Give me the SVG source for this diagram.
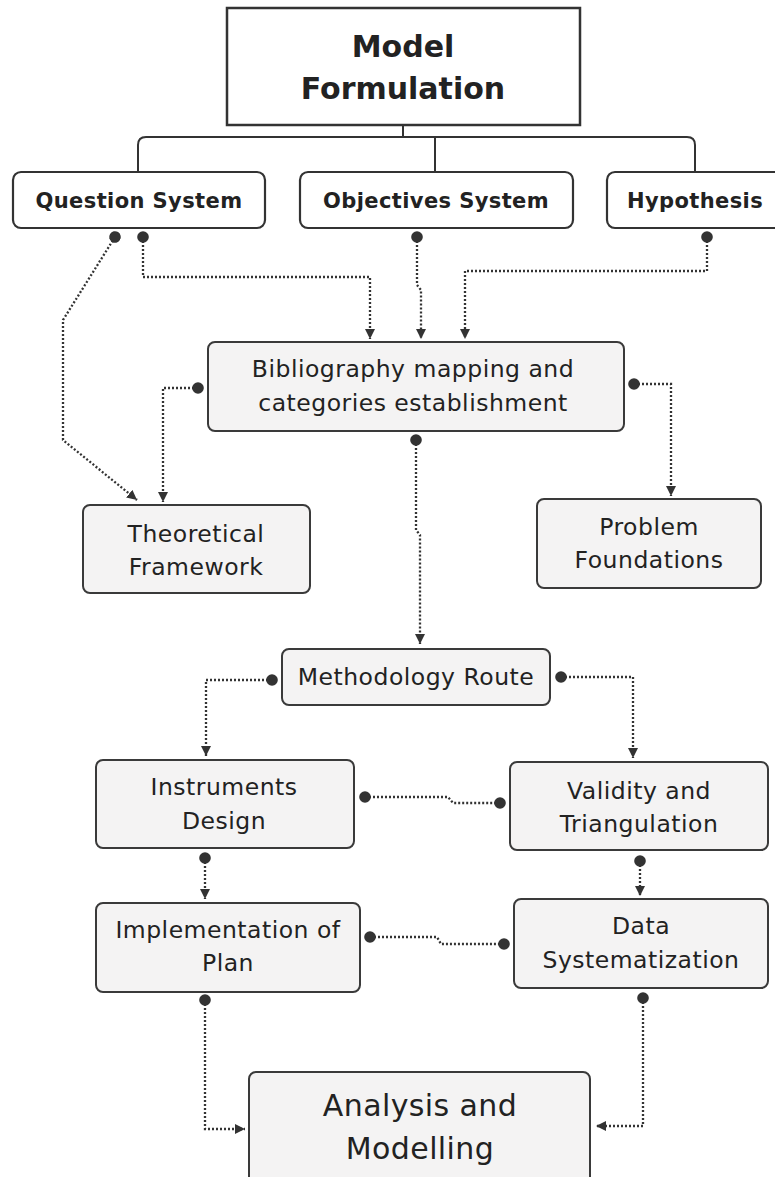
<svg xmlns="http://www.w3.org/2000/svg" width="775" height="1177" viewBox="0 0 775 1177">
<style>
.box{fill:#f4f3f3;stroke:#3a3a3a;stroke-width:2}
.wbox{fill:#ffffff;stroke:#333;stroke-width:2.2}
.t{font-family:"DejaVu Sans","Open Sans",sans-serif;font-size:23.5px;letter-spacing:0.5px;fill:#222;text-anchor:middle}
.hb{font-family:"DejaVu Sans","Open Sans",sans-serif;font-size:21px;font-weight:700;letter-spacing:0.4px;fill:#222;text-anchor:middle}
.title{font-family:"DejaVu Sans","Open Sans",sans-serif;font-size:30px;font-weight:700;fill:#222;text-anchor:middle}
.big{font-family:"DejaVu Sans","Open Sans",sans-serif;font-size:30px;letter-spacing:0.4px;fill:#222;text-anchor:middle}
.dl{fill:none;stroke:#333;stroke-width:2.3;stroke-dasharray:2 2}
.sl{fill:none;stroke:#333;stroke-width:2}
</style>
<defs>
<marker id="dot" viewBox="0 0 12 12" refX="6" refY="6" markerWidth="12" markerHeight="12" markerUnits="userSpaceOnUse" orient="auto">
<circle cx="6" cy="6" r="5.8" fill="#333"/>
</marker>
<marker id="arr" viewBox="0 0 10 10" refX="10" refY="5" markerWidth="10" markerHeight="10" markerUnits="userSpaceOnUse" orient="auto">
<path d="M0,0 L10,5 L0,10 z" fill="#333"/>
</marker>
</defs>
<rect width="775" height="1177" fill="#ffffff"/>
<g id="connectors">
<path class="sl" d="M403,125 V137 M138,172 V145 Q138,137 146,137 H687 Q695,137 695,145 V172 M435,137 V172"/>
<path class="dl" marker-start="url(#dot)" marker-end="url(#arr)" d="M115,237 L63,320 L63,440 L137,500"/>
<path class="dl" marker-start="url(#dot)" marker-end="url(#arr)" d="M143,237 V277 H370 V339"/>
<path class="dl" marker-start="url(#dot)" marker-end="url(#arr)" d="M417,237 V285 L421,290 V339"/>
<path class="dl" marker-start="url(#dot)" marker-end="url(#arr)" d="M707,237 V271 H465 V339"/>
<path class="dl" marker-start="url(#dot)" marker-end="url(#arr)" d="M198,388 H163 V502"/>
<path class="dl" marker-start="url(#dot)" marker-end="url(#arr)" d="M634,384 H671 V496"/>
<path class="dl" marker-start="url(#dot)" marker-end="url(#arr)" d="M416,440 V530 L420,535 V644"/>
<path class="dl" marker-start="url(#dot)" marker-end="url(#arr)" d="M272,680 H206 V756"/>
<path class="dl" marker-start="url(#dot)" marker-end="url(#arr)" d="M561,677 H633 V758"/>
<path class="dl" marker-start="url(#dot)" marker-end="url(#dot)" d="M365,797 H448 L453,803 H500"/>
<path class="dl" marker-start="url(#dot)" marker-end="url(#arr)" d="M205,858 V899"/>
<path class="dl" marker-start="url(#dot)" marker-end="url(#arr)" d="M640,861 V896"/>
<path class="dl" marker-start="url(#dot)" marker-end="url(#dot)" d="M370,937 H437 L441,944 H504"/>
<path class="dl" marker-start="url(#dot)" marker-end="url(#arr)" d="M205,1000 V1129 H245"/>
<path class="dl" marker-start="url(#dot)" marker-end="url(#arr)" d="M643,998 V1126 H596"/>
</g>
<g id="model-formulation">
<rect x="227" y="8" width="353" height="117" fill="#fff" stroke="#333" stroke-width="2.5"/>
<text class="title" x="403" y="57">Model</text>
<text class="title" x="403" y="99">Formulation</text>
</g>
<g id="question-system">
<rect class="wbox" x="13" y="172" width="252" height="56" rx="8"/>
<text class="hb" x="139" y="208">Question System</text>
</g>
<g id="objectives-system">
<rect class="wbox" x="300" y="172" width="273" height="56" rx="8"/>
<text class="hb" x="436" y="208">Objectives System</text>
</g>
<g id="hypothesis">
<rect class="wbox" x="607" y="172" width="180" height="56" rx="8"/>
<text class="hb" x="695" y="208">Hypothesis</text>
</g>
<g id="bibliography">
<rect class="box" x="208" y="342" width="416" height="89" rx="7"/>
<text class="t" x="413" y="377">Bibliography mapping and</text>
<text class="t" x="413" y="411">categories establishment</text>
</g>
<g id="theoretical-framework">
<rect class="box" x="83" y="505" width="227" height="88" rx="7"/>
<text class="t" x="196" y="542">Theoretical</text>
<text class="t" x="196" y="575">Framework</text>
</g>
<g id="problem-foundations">
<rect class="box" x="537" y="499" width="224" height="89" rx="7"/>
<text class="t" x="649" y="535">Problem</text>
<text class="t" x="649" y="568">Foundations</text>
</g>
<g id="methodology-route">
<rect class="box" x="282" y="649" width="268" height="56" rx="7"/>
<text class="t" x="416" y="685">Methodology Route</text>
</g>
<g id="instruments-design">
<rect class="box" x="96" y="760" width="258" height="88" rx="7"/>
<text class="t" x="224" y="795">Instruments</text>
<text class="t" x="224" y="829">Design</text>
</g>
<g id="validity-triangulation">
<rect class="box" x="510" y="762" width="258" height="88" rx="7"/>
<text class="t" x="639" y="799">Validity and</text>
<text class="t" x="639" y="832">Triangulation</text>
</g>
<g id="implementation-plan">
<rect class="box" x="96" y="903" width="264" height="89" rx="7"/>
<text class="t" x="228" y="938">Implementation of</text>
<text class="t" x="228" y="971">Plan</text>
</g>
<g id="data-systematization">
<rect class="box" x="514" y="899" width="254" height="89" rx="7"/>
<text class="t" x="641" y="934">Data</text>
<text class="t" x="641" y="968">Systematization</text>
</g>
<g id="analysis-modelling">
<rect class="box" x="249" y="1072" width="341" height="120" rx="7"/>
<text class="big" x="420" y="1116">Analysis and</text>
<text class="big" x="420" y="1159">Modelling</text>
</g>
</svg>
